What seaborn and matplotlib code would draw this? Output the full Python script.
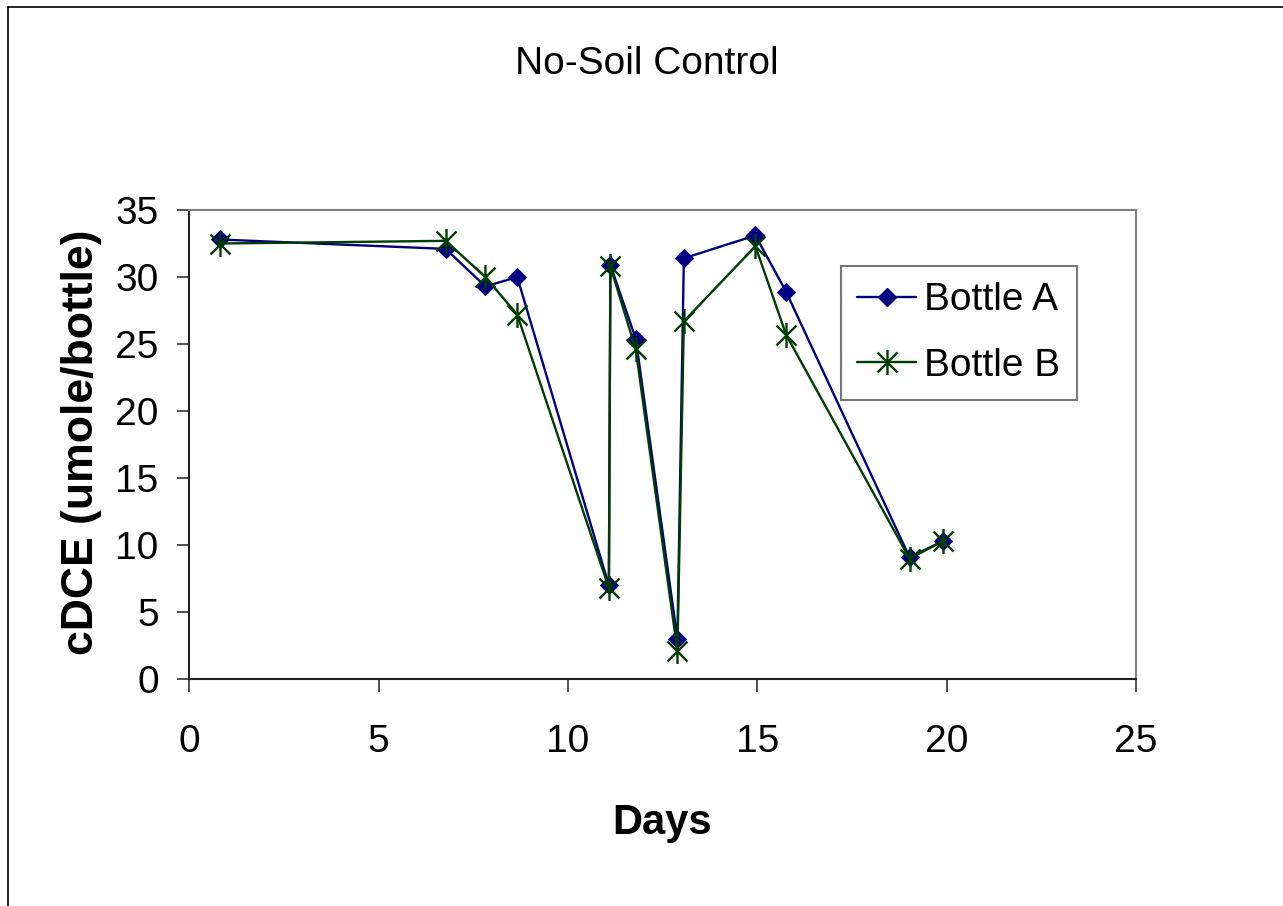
import matplotlib
matplotlib.use("Agg")
import matplotlib.pyplot as plt
import seaborn as sns
import pandas as pd
from matplotlib.path import Path
from matplotlib.lines import Line2D

# ---- data ----
days = [0.81, 6.77, 7.82, 8.66, 11.08, 11.12, 11.79, 12.89, 13.06, 14.95, 15.76, 19.02, 19.90]
bottle_a = [32.8, 32.1, 29.3, 30.0, 7.0, 30.9, 25.4, 3.0, 31.4, 33.1, 28.9, 9.1, 10.3]
bottle_b = [32.5, 32.7, 30.0, 27.2, 6.8, 30.8, 24.6, 2.1, 26.7, 32.3, 25.7, 9.0, 10.3]
series_names = ["Bottle A", "Bottle B"]
x_ticks = [0, 5, 10, 15, 20, 25]
y_ticks = [0, 5, 10, 15, 20, 25, 30, 35]
title = "No-Soil Control"
x_label = "Days"
y_label = "cDCE (umole/bottle)"

sns.set_theme(style="white")
plt.rcParams["font.family"] = ["Liberation Sans", "DejaVu Sans"]
plt.rcParams["text.color"] = "black"
plt.rcParams["xtick.color"] = "black"
plt.rcParams["ytick.color"] = "black"
FS = 28

col_a = "#000080"
col_b = "#003d00"

star = Path([(0, -1), (0, 1), (-0.8, -0.8), (0.8, 0.8), (-0.8, 0.8), (0.8, -0.8)],
            [Path.MOVETO, Path.LINETO, Path.MOVETO, Path.LINETO, Path.MOVETO, Path.LINETO])

df = pd.DataFrame({"Days": days + days,
                   "cDCE": bottle_a + bottle_b,
                   "Bottle": [series_names[0]] * len(days) + [series_names[1]] * len(days)})

fig = plt.figure(figsize=(12.83, 9.06), dpi=100)
ax = fig.add_axes([189.3 / 1283, 1 - 679.3 / 906, (1136 - 189.3) / 1283, (679.3 - 210) / 906])

LW = 1.7
sub_a = df[df.Bottle == series_names[0]]
sub_b = df[df.Bottle == series_names[1]]
sns.lineplot(data=sub_a, x="Days", y="cDCE", ax=ax, color=col_a, linewidth=LW,
             marker="D", markersize=9, markeredgecolor=col_a, markerfacecolor=col_a,
             sort=False, estimator=None, legend=False)
sns.lineplot(data=sub_b, x="Days", y="cDCE", ax=ax, color=col_b, linewidth=LW,
             marker=star, markersize=18, markeredgecolor=col_b, markeredgewidth=1.7,
             sort=False, estimator=None, legend=False)

ax.set_xlim(0, 25)
ax.set_ylim(0, 35)
ax.set_xticks(x_ticks)
ax.set_yticks(y_ticks)
ax.set_xticklabels([str(t) for t in x_ticks], fontsize=FS, color="black")
ax.set_yticklabels([str(t) for t in y_ticks], fontsize=FS, color="black")
ax.tick_params(axis="x", direction="out", length=9.5, width=1.2, color="#333333", pad=23, bottom=True)
ax.tick_params(axis="y", direction="out", length=9, width=1.2, color="#333333", pad=13, left=True)
for s in ["top", "right"]:
    ax.spines[s].set_color("#808080")
    ax.spines[s].set_linewidth(1.5)
for s in ["left", "bottom"]:
    ax.spines[s].set_color("#222222")
    ax.spines[s].set_linewidth(1.5)

ax.set_xlabel("")
ax.set_ylabel("")
fig.text(662 / 1283, 1 - 823 / 906, x_label, fontsize=30, fontweight="bold", ha="center", va="center",
         color="black")
fig.text(82 / 1283, 1 - 442 / 906, y_label, fontsize=32, fontweight="bold", ha="center", va="center",
         rotation=90, color="black")
fig.text(647 / 1283, 1 - 64 / 906, title, fontsize=FS, ha="center", va="center", color="black")

handles = [Line2D([], [], color=col_a, linewidth=LW, marker="D", markersize=9),
           Line2D([], [], color=col_b, linewidth=LW, marker=star, markersize=18, markeredgewidth=1.7)]
leg = ax.legend(handles, series_names, loc="upper left",
                bbox_to_anchor=(841 / 1283, 1 - 266 / 906), bbox_transform=fig.transFigure,
                borderaxespad=0, fontsize=FS, frameon=True, fancybox=False, shadow=False,
                handlelength=1.5, handletextpad=0.22, labelspacing=0.75, borderpad=0.42)
leg.get_frame().set_edgecolor("#555555")
leg.get_frame().set_linewidth(1.5)
for t in leg.get_texts():
    t.set_color("black")

fig.add_artist(Line2D([8 / 1283, 8 / 1283], [0, 1 - 7 / 906], color="black", linewidth=1.2,
                      transform=fig.transFigure))
fig.add_artist(Line2D([8 / 1283, 1], [1 - 7 / 906, 1 - 7 / 906], color="black", linewidth=1.2,
                      transform=fig.transFigure))

fig.savefig("out.png", dpi=100, facecolor="white")
